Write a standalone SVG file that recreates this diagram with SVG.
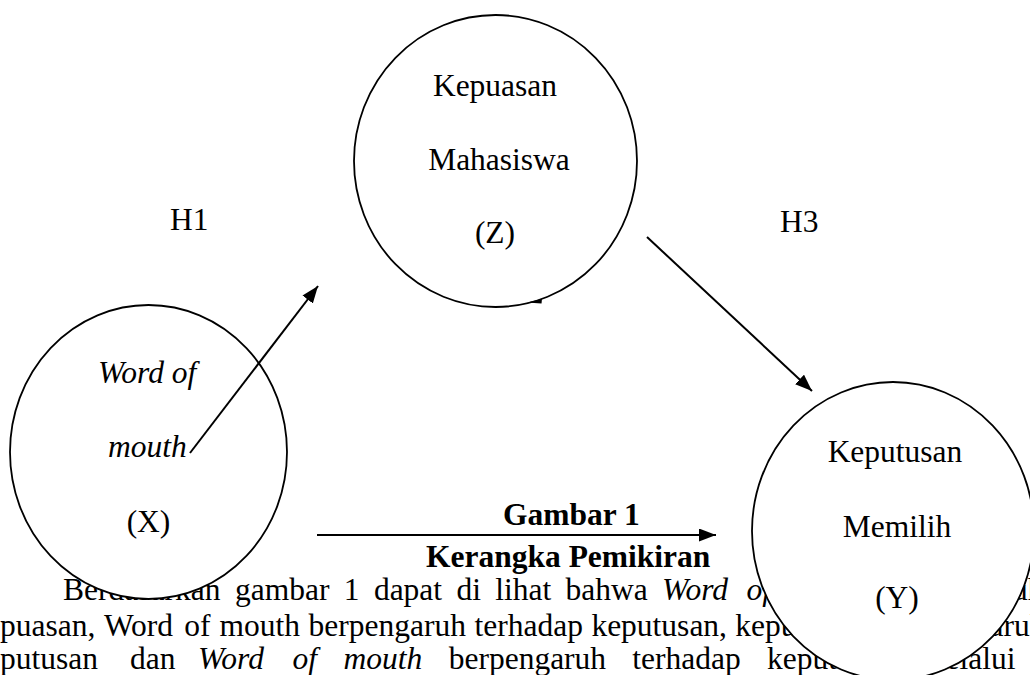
<svg xmlns="http://www.w3.org/2000/svg" width="1030" height="675" viewBox="0 0 1030 675">
<style>
text{font-family:"Liberation Serif","Times New Roman",serif;font-size:31.5px;fill:#000}
.c{text-anchor:middle}
.i{font-style:italic}
.b{font-weight:bold}
.node{fill:#fff;stroke:#000;stroke-width:1.8}
.edge{stroke:#000;stroke-width:2;fill:none}
</style>
<defs>
<marker id="ah" markerUnits="userSpaceOnUse" markerWidth="18" markerHeight="14" refX="17" refY="6.5" orient="auto">
<path d="M0,0 L17,6.5 L0,13 z" fill="#000"/>
</marker>
</defs>
<rect width="1030" height="675" fill="#fff"/>
<g id="paragraph">
<text y="600"><tspan x="63">Berdasarkan</tspan><tspan x="235">gambar</tspan><tspan x="343.7">1</tspan><tspan x="373.9">dapat</tspan><tspan x="456.4">di</tspan><tspan x="495.3">lihat</tspan><tspan x="565.6">bahwa</tspan><tspan x="662.1" class="i">Word</tspan><tspan x="746.4" class="i">of</tspan><tspan x="785.3" class="i">mouth</tspan><tspan x="886">berpengaruh</tspan></text>
<text y="636"><tspan x="0">puasan,</tspan><tspan x="103.9">Word</tspan><tspan x="184.3">of</tspan><tspan x="219.4">mouth</tspan><tspan x="308.6">berpengaruh</tspan><tspan x="474.5">terhadap</tspan><tspan x="591.4">keputusan,</tspan><tspan x="735.3">kepuasan</tspan><tspan x="888">berpengaruh</tspan></text>
<text y="669"><tspan x="0">putusan</tspan><tspan x="130">dan</tspan><tspan x="198" class="i">Word</tspan><tspan x="292.6" class="i">of</tspan><tspan x="343.6" class="i">mouth</tspan><tspan x="448.7">berpengaruh</tspan><tspan x="632.3">terhadap</tspan><tspan x="767">keputusan</tspan><tspan x="921">melalui</tspan></text>
</g>
<g id="node-z">
<ellipse class="node" cx="495.5" cy="161" rx="141.5" ry="146"/>
<text class="c" x="495" y="96">Kepuasan</text>
<text class="c" x="499" y="170">Mahasiswa</text>
<text class="c" x="495" y="243">(Z)</text>
</g>
<g id="node-x">
<ellipse class="node" cx="148.5" cy="452" rx="138.5" ry="147"/>
<text class="i" x="98" y="383">Word of</text>
<text class="i" x="108" y="457">mouth</text>
<text class="c" x="148.5" y="532">(X)</text>
</g>
<g id="node-y">
<ellipse class="node" cx="893" cy="531" rx="141" ry="149"/>
<text class="c" x="895" y="462">Keputusan</text>
<text class="c" x="897" y="537">Memilih</text>
<text class="c" x="897" y="608">(Y)</text>
</g>
<g id="labels">
<text x="170" y="230">H1</text>
<text x="780" y="232">H3</text>
<text class="b" x="503" y="525">Gambar 1</text>
<text class="b" x="426" y="567">Kerangka Pemikiran</text>
</g>
<g id="connectors">
<line class="edge" x1="190" y1="453" x2="318" y2="286" marker-end="url(#ah)"/>
<line class="edge" x1="647" y1="237" x2="812" y2="391" marker-end="url(#ah)"/>
<line class="edge" x1="317" y1="535" x2="716" y2="535" marker-end="url(#ah)"/>
<path d="M527,302.5 L542,299 L541.5,303.5 z" fill="#000"/>
</g>
</svg>
